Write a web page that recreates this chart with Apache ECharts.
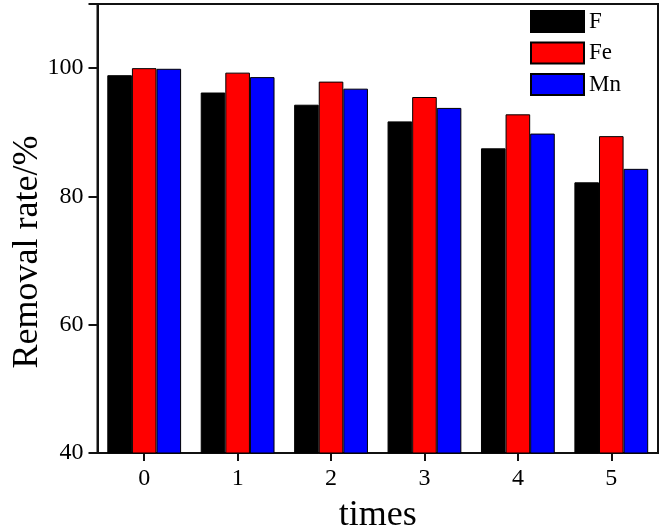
<!DOCTYPE html>
<html>
<head>
<meta charset="utf-8">
<script src="https://cdn.jsdelivr.net/npm/echarts@6/dist/echarts.min.js"></script>
<style>html,body{margin:0;padding:0;background:#fff}#c{width:663px;height:531px}</style>
</head>
<body>
<div id="c"></div>
<script>
const categories = ['0', '1', '2', '3', '4', '5'];
const seriesNames = ['F', 'Fe', 'Mn'];
const valuesF  = [98.9, 96.2, 94.3, 91.7, 87.5, 82.2];
const valuesFe = [100.0, 99.3, 97.9, 95.5, 92.8, 89.4];
const valuesMn = [99.9, 98.6, 96.8, 93.8, 89.8, 84.3];
const colors = ['#000000', '#ff0000', '#0000ff'];

const font = 'Liberation Serif';
const chart = echarts.init(document.getElementById('c'), null, {renderer: 'canvas'});
const allValues = [valuesF, valuesFe, valuesMn];
chart.setOption({
  animation: false,
  backgroundColor: '#fff',
  grid: {left: 97.5, right: 5, top: 4, bottom: 78, show: true, borderColor: '#111', borderWidth: 2,
    containLabel: false, outerBoundsMode: 'none'},
  legend: {
    orient: 'vertical', left: 530, top: 10, padding: 0,
    itemWidth: 53, itemHeight: 21, itemGap: 8.5,
    icon: 'rect',
    textStyle: {fontFamily: font, fontSize: 23, color: '#000', padding: [0, 0, 0, 0], lineHeight: 21},
    data: seriesNames
  },
  xAxis: {
    type: 'category', data: categories, boundaryGap: true,
    name: 'times', nameLocation: 'middle', nameGap: 45, nameMoveOverlap: false,
    nameTextStyle: {fontFamily: font, fontSize: 36, color: '#000'},
    axisLine: {lineStyle: {color: '#111', width: 2}},
    axisTick: {show: true, alignWithLabel: true, inside: false, length: 8, lineStyle: {color: '#111', width: 2}},
    axisLabel: {fontFamily: font, fontSize: 24, color: '#000', margin: 14},
    splitLine: {show: false}
  },
  yAxis: {
    type: 'value', min: 40, max: 110, interval: 20,
    name: 'Removal rate/%', nameLocation: 'middle', nameGap: 52, nameRotate: 90, nameMoveOverlap: false,
    nameTextStyle: {fontFamily: font, fontSize: 36, color: '#000', padding: [0, 47, 0, 0]},
    axisLine: {show: true, lineStyle: {color: '#111', width: 2}},
    axisTick: {show: true, inside: false, length: 9, lineStyle: {color: '#111', width: 2}},
    axisLabel: {fontFamily: font, fontSize: 24, color: '#000', margin: 14,
      formatter: v => (v > 100 ? '' : String(v))},
    splitLine: {show: false}
  },
  series: seriesNames.map((n, i) => ({
    name: n, type: 'bar', data: allValues[i],
    barWidth: 24.6, barGap: '0%',
    itemStyle: {color: colors[i], borderColor: '#000', borderWidth: 1}
  }))
});
</script>
</body>
</html>
